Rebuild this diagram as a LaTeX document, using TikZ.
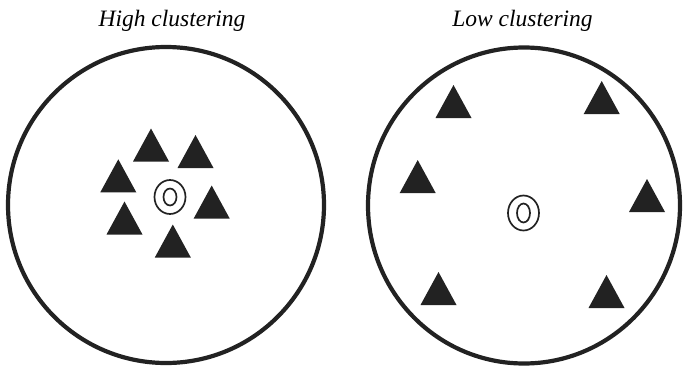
\documentclass[tikz,border=0pt]{standalone}
\usepackage{fontspec}
\setmainfont{Liberation Serif}
\definecolor{ink}{HTML}{222222}
\newcommand{\tri}[2]{\fill[ink] (#1,#2) -- ++(-18,33) -- ++(36,0) -- cycle;}
\begin{document}
\begin{tikzpicture}[x=1pt,y=-1pt,
  ring/.style={draw=ink,line width=4.2pt},
  target/.style={draw=ink,line width=1.7pt},
  title/.style={anchor=base,inner sep=0pt,font=\fontsize{23.5}{28}\selectfont\itshape}]
\useasboundingbox (0,0) rectangle (683,367);
% titles
\node[title] (t1) at (172,26) {High clustering};
\node[title] (t2) at (522.5,26) {Low clustering};
% outer circles
\draw[ring] (166,205) ellipse [x radius=158, y radius=158];
\draw[ring] (524,205.5) ellipse [x radius=156, y radius=158];
% left: high clustering
\tri{151}{128.5}
\tri{195.5}{135}
\tri{118.3}{159.3}
\tri{211.7}{185.5}
\tri{124.5}{201.5}
\tri{172.8}{224.5}
\draw[target] (170,197) ellipse [x radius=15.5, y radius=17];
\draw[target] (170,197) ellipse [x radius=6.5, y radius=8.5];
% right: low clustering
\tri{453.5}{85}
\tri{601.7}{81}
\tri{417.7}{160}
\tri{647}{179}
\tri{438.5}{272}
\tri{606.5}{275}
\draw[target] (523.5,213) ellipse [x radius=15.5, y radius=17.5];
\draw[target] (523.5,213) ellipse [x radius=6.5, y radius=9.5];
\end{tikzpicture}
\end{document}
